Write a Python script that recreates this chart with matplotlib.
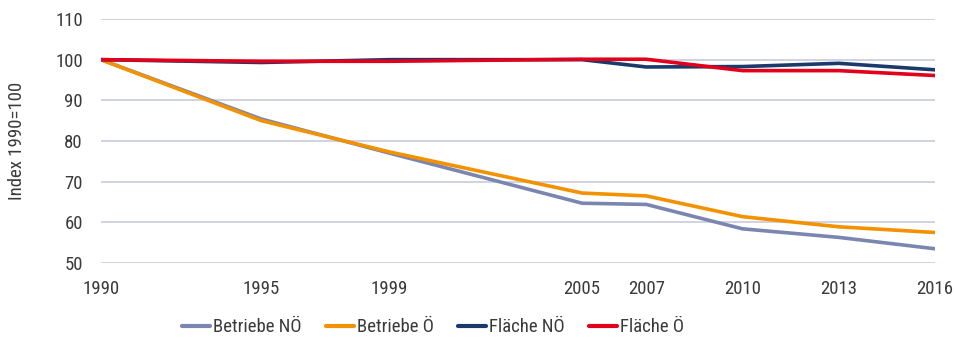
import matplotlib
matplotlib.use("Agg")
import matplotlib.pyplot as plt

years = [1990, 1995, 1999, 2005, 2007, 2010, 2013, 2016]
betriebe_noe = [100, 85.4, 77.0, 64.7, 64.4, 58.4, 56.3, 53.5]
betriebe_oe = [100, 85.0, 77.3, 67.2, 66.5, 61.4, 58.9, 57.5]
flaeche_noe = [100, 99.3, 100.0, 100.0, 98.2, 98.3, 99.1, 97.5]
flaeche_oe = [100, 99.6, 99.6, 100.1, 100.1, 97.3, 97.3, 96.1]
series_names = ["Betriebe NÖ", "Betriebe Ö", "Fläche NÖ", "Fläche Ö"]
yticks = [50, 60, 70, 80, 90, 100, 110]

plt.rcParams["font.family"] = ["Roboto Condensed", "DejaVu Sans"]

colors = ["#7b86b0", "#f39200", "#1b3a6b", "#e2001a"]
text_color = "#3a3a3a"
fs = 13.5

fig = plt.figure(figsize=(9.56, 3.39), dpi=100)
ax = fig.add_axes([0.1056, 0.2242, 0.978 - 0.1056, 0.944 - 0.2242])

for vals, name, c in zip([betriebe_noe, betriebe_oe, flaeche_noe, flaeche_oe], series_names, colors):
    ax.plot(years, vals, color=c, lw=2.6, label=name,
            solid_capstyle="round", solid_joinstyle="round")

ax.set_xlim(1990, 2016)
ax.set_ylim(50, 110)
ax.set_xticks(years)
ax.set_xticklabels([str(y) for y in years])
ax.set_yticks(yticks)
ax.grid(axis="y", color="#c9cbdd", lw=1.2)
ax.set_axisbelow(True)
for s in ax.spines.values():
    s.set_visible(False)
ax.tick_params(axis="both", length=0, labelsize=fs, colors=text_color)
ax.tick_params(axis="x", pad=12)
ax.tick_params(axis="y", pad=13)
ax.set_ylabel("Index 1990=100", fontsize=fs, color=text_color)
ax.yaxis.set_label_coords(-0.09, 0.5)

leg = fig.legend(loc="center", bbox_to_anchor=(0.453, 0.035), ncol=4, frameon=False,
                 fontsize=fs, handlelength=1.5, handletextpad=0.15, columnspacing=1.3)
for t in leg.get_texts():
    t.set_color(text_color)
for h in leg.get_lines():
    h.set_linewidth(3.0)

fig.savefig("out.png", dpi=100)
